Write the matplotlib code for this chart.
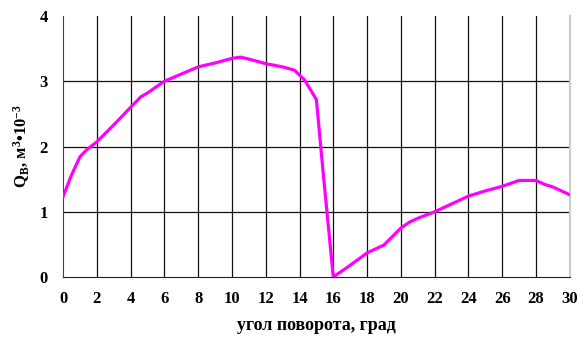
import matplotlib
matplotlib.use('Agg')
import matplotlib.pyplot as plt

plt.rcParams['font.family'] = ['Liberation Serif', 'DejaVu Serif']
plt.rcParams['font.weight'] = 'bold'
plt.rcParams['mathtext.fontset'] = 'custom'
plt.rcParams['mathtext.rm'] = 'Liberation Serif:bold'
plt.rcParams['mathtext.bf'] = 'Liberation Serif:bold'
plt.rcParams['mathtext.it'] = 'Liberation Serif:bold'

# угол поворота, град
angle = [0, 0.5, 1, 1.4, 2, 3, 4, 4.6, 5, 6, 7, 8, 9, 10, 10.5, 11, 12, 13, 13.7,
         14.3, 15.0, 15.4, 16, 17, 18, 19, 20, 20.5, 21, 22, 23, 24, 25, 26, 27,
         28, 28.5, 29, 30]
# Qв, м3*10^-3
q = [1.23, 1.56, 1.84, 1.95, 2.07, 2.33, 2.6, 2.76, 2.82, 3.0, 3.11, 3.22, 3.28,
     3.35, 3.37, 3.34, 3.27, 3.22, 3.17, 3.02, 2.72, 1.6, 0.0, 0.18, 0.37, 0.49,
     0.75, 0.84, 0.9, 1.0, 1.12, 1.24, 1.32, 1.39, 1.48, 1.48, 1.42, 1.38, 1.26]

fig = plt.figure(figsize=(5.85, 3.45), dpi=100)
ax = fig.add_axes([0.1077, 0.197, 0.974 - 0.1077, 0.9536 - 0.197])

ax.plot(angle, q, color='#FF00FF', lw=2.3, solid_joinstyle='round', zorder=3)

ax.set_xlim(0, 30)
ax.set_ylim(0, 4)
ax.set_xticks(range(0, 31, 2))
ax.set_yticks(range(0, 5))

# сетка
for xv in range(2, 30, 2):
    ax.axvline(xv, color='#111111', lw=0.9, zorder=1)
for yv in range(1, 4):
    ax.axhline(yv, color='#111111', lw=0.9, zorder=1)

ax.spines['top'].set_visible(False)
ax.spines['right'].set_color('#cccccc')
ax.spines['right'].set_linewidth(1.5)
ax.spines['left'].set_color('#444444')
ax.spines['bottom'].set_color('#222222')

ax.tick_params(length=0, labelsize=12, pad=10)
ax.tick_params(axis='y', pad=11)
for lab in ax.get_xticklabels() + ax.get_yticklabels():
    lab.set_fontweight('bold')

ax.set_xlabel('угол поворота, град', fontsize=13, fontweight='bold', labelpad=7)
ax.set_ylabel(r'Q$_{\mathrm{В}}$, м$^{\mathrm{3}}$•10$^{\mathrm{-3}}$', fontsize=12,
              fontweight='bold', labelpad=5)

fig.savefig('out.png', dpi=100)
